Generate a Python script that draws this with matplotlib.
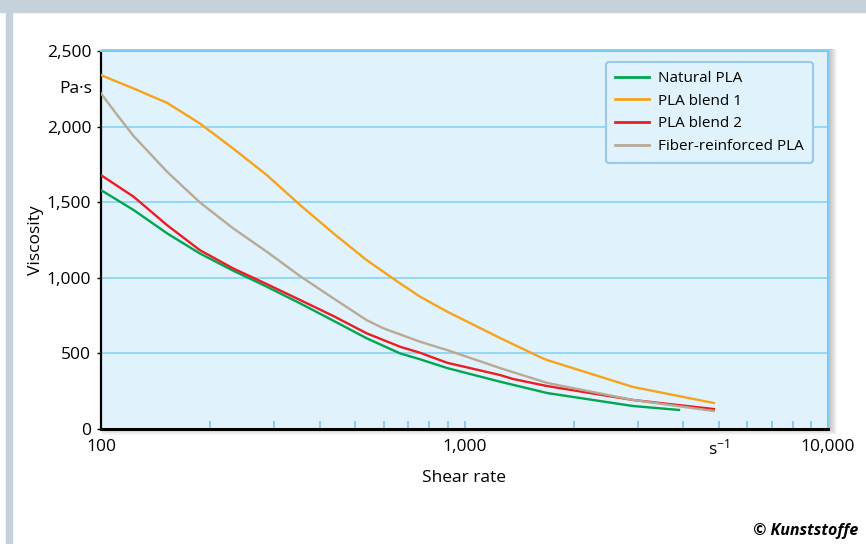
import matplotlib
matplotlib.use('Agg')
import matplotlib.pyplot as plt
from matplotlib.patches import Rectangle
import numpy as np

plt.rcParams['font.family'] = ['Open Sans', 'DejaVu Sans']
plt.rcParams['mathtext.default'] = 'regular'

# shear rate [1/s] and viscosity [Pa s]
natural_rate = [100, 123, 152, 187, 231, 286, 353, 436, 538, 665, 755, 896, 1252, 1687, 2907, 3890]
natural_visc = [1580, 1448, 1294, 1161, 1047, 941, 831, 716, 600, 500, 461, 403, 313, 238, 152, 126]

blend1_rate = [100, 123, 152, 187, 231, 286, 353, 436, 538, 665, 755, 896, 1252, 1613, 1687, 2907, 4853]
blend1_visc = [2340, 2252, 2157, 2021, 1855, 1679, 1481, 1294, 1117, 963, 875, 776, 602, 476, 456, 278, 172]

blend2_rate = [100, 123, 152, 187, 231, 286, 353, 436, 538, 665, 755, 896, 1252, 1359, 1687, 2907, 4853]
blend2_visc = [1679, 1536, 1348, 1183, 1062, 958, 853, 747, 633, 544, 504, 438, 357, 331, 284, 192, 132]

fiber_rate = [100, 110, 123, 152, 187, 231, 286, 353, 436, 538, 598, 755, 896, 1252, 1687, 2907, 4853]
fiber_visc = [2219, 2087, 1937, 1701, 1499, 1327, 1172, 1011, 864, 720, 666, 577, 522, 403, 305, 192, 119]

series = [
    ('Natural PLA', natural_rate, natural_visc, '#00a651'),
    ('PLA blend 1', blend1_rate, blend1_visc, '#f7a21b'),
    ('PLA blend 2', blend2_rate, blend2_visc, '#ed1c24'),
    ('Fiber-reinforced PLA', fiber_rate, fiber_visc, '#b8aa95'),
]

y_ticks = [0, 500, 1000, 1500, 2000, 2500]
y_labels = ['0', '500', '1,000', '1,500', '2,000', '2,500']
x_ticks = [100, 1000, 5000, 10000]
x_labels = ['100', '1,000', 's$^{-1}$', '10,000']

W, H = 866, 544
fig = plt.figure(figsize=(W / 100, H / 100), dpi=100)
fig.patch.set_facecolor('white')

# outer frame bands
border = '#c5d2db'
fig.patches.append(Rectangle((0, 1 - 12 / H), 1, 12 / H, transform=fig.transFigure,
                             color=border, zorder=0))
fig.patches.append(Rectangle((6 / W, 0), 6 / W, 1 - 12 / H, transform=fig.transFigure,
                             color=border, zorder=0))

x0, x1, y0, y1 = 101, 828, 429, 51
ax_rect = [x0 / W, 1 - y0 / H, (x1 - x0) / W, (y0 - y1) / H]

# soft drop shadow behind the plot area
for i in range(8, 0, -1):
    fig.patches.append(Rectangle((ax_rect[0] + 1 / W, ax_rect[1] - (i - 2) / H),
                                 ax_rect[2] + i / W, ax_rect[3] + i / H,
                                 transform=fig.transFigure, color='black',
                                 alpha=0.03, lw=0, zorder=0))

ax = fig.add_axes(ax_rect)
ax.set_zorder(2)
ax.set_facecolor('#e0f2fb')
ax.set_xscale('log')
ax.set_xlim(100, 10000)
ax.set_ylim(0, 2500)

for name, rate, visc, col in series:
    ax.plot(rate, visc, color=col, lw=1.7, label=name, zorder=3, solid_joinstyle='round')

for v in y_ticks[1:-1]:
    ax.axhline(v, color='#88d2f2', lw=1.2, zorder=1)

for side in ['top', 'right']:
    ax.spines[side].set_color('#7ccbee')
    ax.spines[side].set_linewidth(1.5)
for side in ['left', 'bottom']:
    ax.spines[side].set_color('black')
ax.spines['left'].set_linewidth(1.6)
ax.spines['bottom'].set_linewidth(2.2)

ax.set_yticks(y_ticks)
ax.set_yticklabels(y_labels)
ax.tick_params(axis='y', length=3, width=1, color='black', labelsize=12.5, pad=4)

# "Pa·s" unit label sits in the tick column
ax.text(-0.012, 2250, 'Pa·s', transform=ax.get_yaxis_transform(), ha='right',
        va='center', fontsize=12.5)

ax.set_xticks(x_ticks)
ax.set_xticklabels(x_labels)
ax.tick_params(axis='x', which='major', direction='in', length=6, width=1.3,
               color='#7ccbee', labelsize=12.5, pad=7)
ax.xaxis.set_minor_locator(matplotlib.ticker.LogLocator(base=10, subs=np.arange(2, 10)))
ax.xaxis.set_minor_formatter(matplotlib.ticker.NullFormatter())
ax.tick_params(axis='x', which='minor', direction='in', length=6, width=1.3,
               color='#7ccbee')

ax.set_xlabel('Shear rate', fontsize=12.5, labelpad=8)
ax.set_ylabel('Viscosity', fontsize=12.5, labelpad=2)

leg = ax.legend(loc='upper right', bbox_to_anchor=(813 / W, 1 - 62 / H),
                bbox_transform=fig.transFigure, fontsize=11, frameon=True,
                fancybox=True, facecolor='#e0f2fb', edgecolor='#9cc8ea',
                framealpha=1, handlelength=2.2, handletextpad=0.6,
                labelspacing=0.5, borderpad=0.6, borderaxespad=0)
leg.get_frame().set_linewidth(1.5)
for line in leg.get_lines():
    line.set_linewidth(2)

fig.text(858 / W, 1 - 531 / H, '© Kunststoffe', ha='right', va='center',
         fontsize=11.5, fontweight='bold', fontstyle='italic')

fig.savefig('out.png', dpi=100)
